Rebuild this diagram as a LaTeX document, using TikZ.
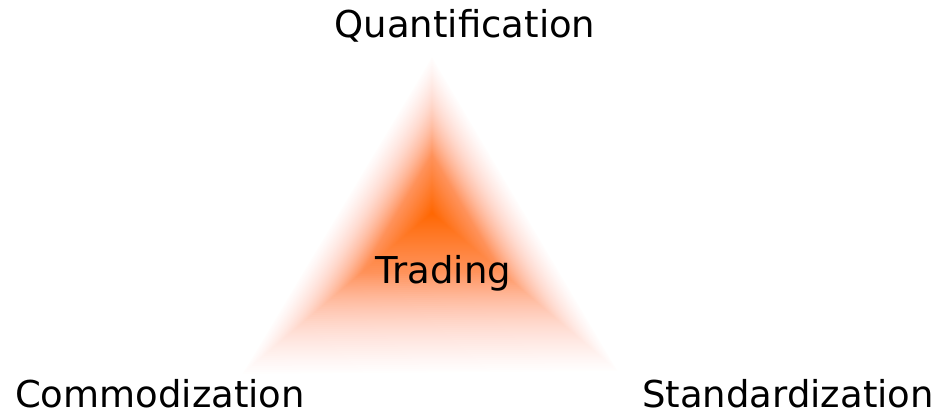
\documentclass[tikz,border=0pt]{standalone}
\usepackage{fontspec}
\setmainfont{DejaVu Sans}
\usetikzlibrary{calc}
\definecolor{tradeorange}{RGB}{255,102,0}
\definecolor{tradepink}{RGB}{255,190,180}

\begin{document}
\begin{tikzpicture}[x=1pt,y=-1pt,
    label/.style={font=\fontsize{37}{44}\selectfont,anchor=base}]
        \useasboundingbox (0,0) rectangle (939,414);
        \coordinate (apex) at (432,55);
        \coordinate (left) at (240,376);
        \coordinate (right) at (620,373);
        \coordinate (mid) at (432,213);

        % fading triangle, outer to inner
        \foreach \i in {1,...,80}{
          \pgfmathsetmacro{\s}{1-\i/80}
          \pgfmathsetmacro{\p}{100*(\i/80)^1.5}
          \pgfmathsetmacro{\q}{100*min(1,1.6*\i/80)}
          \fill[tradeorange!\p!tradepink!\q!white] ($(mid)!\s!(apex)$)
            -- ($(mid)!\s!(left)$) -- ($(mid)!\s!(right)$) -- cycle;
        }

        \node[label] (Q) at (465,38) {Quantification};
        \node[label] (C) at (160,407) {Commodization};
        \node[label] (S) at (788,407) {Standardization};
        \node[label] (T) at (443,283) {Trading};
\end{tikzpicture}
\end{document}
